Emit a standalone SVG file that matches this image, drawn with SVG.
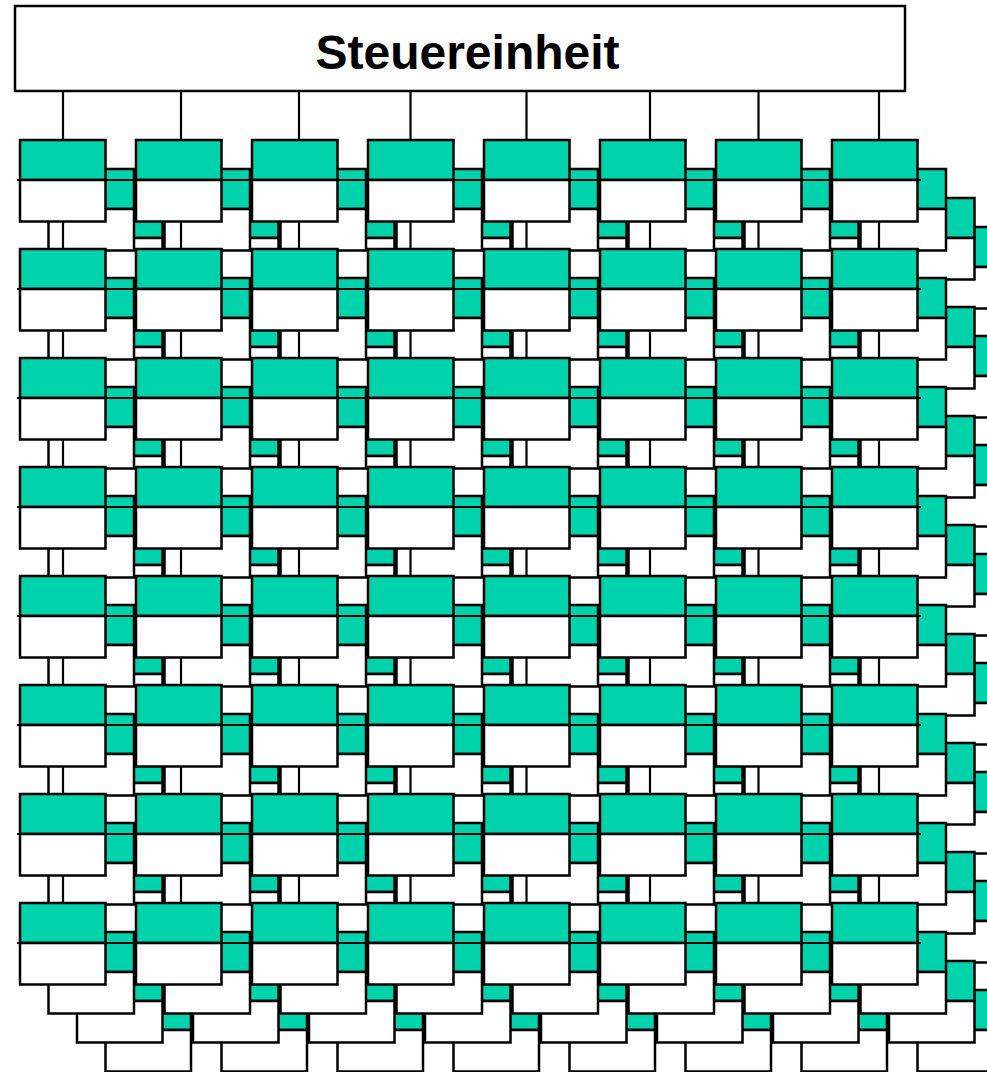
<svg xmlns="http://www.w3.org/2000/svg" width="987" height="1072" viewBox="0 0 987 1072">
<style>
.t{fill:#00d2ab;stroke:#000;stroke-width:2.5}
.w{fill:#fff;stroke:#000;stroke-width:2.5}
.c{stroke:#000;stroke-width:2.2;fill:none}
.box{fill:#fff;stroke:#000;stroke-width:2.5}
.lbl{font-family:"Liberation Sans",Arial,sans-serif;font-weight:bold;font-size:48px;fill:#000}
</style>
<defs>
<g id="pe"><rect class="t" width="85.5" height="40"/><rect class="w" y="40" width="85.5" height="41.5"/></g>
<g id="row">
<use href="#pe" x="20"/><use href="#pe" x="136"/><use href="#pe" x="252"/><use href="#pe" x="368"/><use href="#pe" x="484"/><use href="#pe" x="600"/><use href="#pe" x="716"/><use href="#pe" x="832"/>
</g>
</defs>
<rect width="987" height="1072" fill="#fff"/>
<g id="layer3" transform="translate(85.5,87)">
<g id="pe-3-r0"><use href="#row" y="140"/></g>
<g id="pe-3-r1"><use href="#row" y="249"/></g>
<g id="pe-3-r2"><use href="#row" y="358"/></g>
<g id="pe-3-r3"><use href="#row" y="467"/></g>
<g id="pe-3-r4"><use href="#row" y="576"/></g>
<g id="pe-3-r5"><use href="#row" y="685"/></g>
<g id="pe-3-r6"><use href="#row" y="794"/></g>
<g id="pe-3-r7"><use href="#row" y="903"/></g>
</g>
<g id="layer2" transform="translate(57,58)">
<g id="pe-2-r0"><use href="#row" y="140"/></g>
<g id="pe-2-r1"><use href="#row" y="249"/></g>
<g id="pe-2-r2"><use href="#row" y="358"/></g>
<g id="pe-2-r3"><use href="#row" y="467"/></g>
<g id="pe-2-r4"><use href="#row" y="576"/></g>
<g id="pe-2-r5"><use href="#row" y="685"/></g>
<g id="pe-2-r6"><use href="#row" y="794"/></g>
<g id="pe-2-r7"><use href="#row" y="903"/></g>
</g>
<g id="layer1" transform="translate(28.5,29)">
<g id="pe-1-r0"><use href="#row" y="140"/></g>
<g id="pe-1-r1"><use href="#row" y="249"/></g>
<g id="pe-1-r2"><use href="#row" y="358"/></g>
<g id="pe-1-r3"><use href="#row" y="467"/></g>
<g id="pe-1-r4"><use href="#row" y="576"/></g>
<g id="pe-1-r5"><use href="#row" y="685"/></g>
<g id="pe-1-r6"><use href="#row" y="794"/></g>
<g id="pe-1-r7"><use href="#row" y="903"/></g>
</g>
<g id="connectors" class="c">
<line x1="17" y1="180" x2="921" y2="180"/>
<line x1="17" y1="289" x2="921" y2="289"/>
<line x1="17" y1="398" x2="921" y2="398"/>
<line x1="17" y1="507" x2="921" y2="507"/>
<line x1="17" y1="616" x2="921" y2="616"/>
<line x1="17" y1="725" x2="921" y2="725"/>
<line x1="17" y1="834" x2="921" y2="834"/>
<line x1="17" y1="943" x2="921" y2="943"/>
<line x1="63" y1="91" x2="63" y2="903"/>
<line x1="181" y1="91" x2="181" y2="903"/>
<line x1="299" y1="91" x2="299" y2="903"/>
<line x1="410.5" y1="91" x2="410.5" y2="903"/>
<line x1="526.5" y1="91" x2="526.5" y2="903"/>
<line x1="650" y1="91" x2="650" y2="903"/>
<line x1="758.5" y1="91" x2="758.5" y2="903"/>
<line x1="879" y1="91" x2="879" y2="903"/>
</g>
<g id="layer0">
<g id="pe-0-r0"><use href="#row" y="140"/></g>
<g id="pe-0-r1"><use href="#row" y="249"/></g>
<g id="pe-0-r2"><use href="#row" y="358"/></g>
<g id="pe-0-r3"><use href="#row" y="467"/></g>
<g id="pe-0-r4"><use href="#row" y="576"/></g>
<g id="pe-0-r5"><use href="#row" y="685"/></g>
<g id="pe-0-r6"><use href="#row" y="794"/></g>
<g id="pe-0-r7"><use href="#row" y="903"/></g>
</g>
<g id="steuereinheit">
<rect class="box" x="15" y="6" width="890" height="85"/>
<text class="lbl" x="467.5" y="69" text-anchor="middle">Steuereinheit</text>
</g>
</svg>
